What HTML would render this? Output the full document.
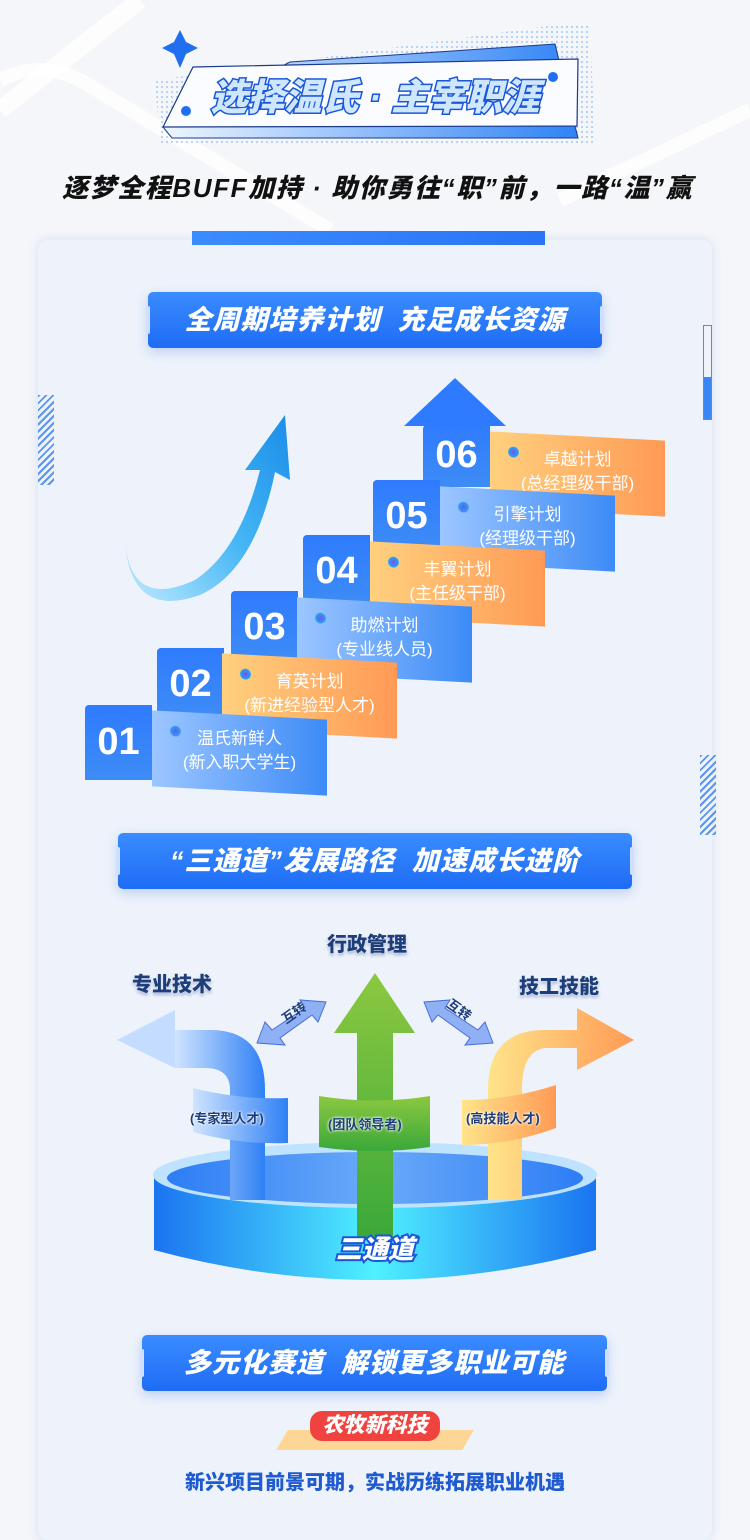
<!DOCTYPE html>
<html><head><meta charset="utf-8">
<style>
*{margin:0;padding:0;box-sizing:border-box}
body{width:750px;height:1499px;overflow:hidden;background:#f4f6fa;font-family:"Liberation Sans","Noto Sans CJK SC",sans-serif;position:relative}
.a{position:absolute}
.hdr{position:absolute;height:56px;border-radius:5px;background:linear-gradient(180deg,#3a8cff,#1f6cf5);box-shadow:0 4px 12px rgba(40,100,220,.25);color:#fff;font-weight:900;font-style:italic;font-size:27px;text-align:center;line-height:56px;letter-spacing:1px}
.hdr:before,.hdr:after{content:"";position:absolute;top:14px;width:4px;height:28px;background:#cfe0ff;border-radius:2px}
.hdr:before{left:-2px}.hdr:after{right:-2px}
.num{position:absolute;width:67px;background:linear-gradient(180deg,#2f7bff,#3d8cf5);color:#fff;font-size:38px;font-weight:700;text-align:center;border-radius:4px 0 0 0}
.lab{position:absolute;width:175px;height:76px;color:#fff;font-size:17px;line-height:24px;text-align:center;padding-top:12px;transform:skewY(3deg)}
.lab span{display:block;transform:skewY(-3deg)}
.bl{background:linear-gradient(90deg,#9cc6ff,#3d8bf7)}
.or{background:linear-gradient(90deg,#ffd07e,#ff9a55)}
.dot{position:absolute;left:18px;top:14px;width:11px;height:11px;border-radius:50%;background:radial-gradient(#7a4cff,#2aa0e8 60%,#c0f0ff);}
.t3{position:absolute;font-size:20px;font-weight:900;color:#1d3e7a;text-shadow:0 0 3px #fff,0 2px 3px rgba(30,60,140,.5)}
.sm{position:absolute;font-size:13px;color:#1d3e7a;font-weight:700;text-shadow:0 0 2px #fff,0 0 3px #fff}
</style></head><body>
<svg class="a" style="left:0;top:0" width="750" height="260">
<defs><linearGradient id="g1"><stop offset="0" stop-color="#eef5ff"/><stop offset="1" stop-color="#2f83f5"/></linearGradient>
<pattern id="pd" width="5" height="5" patternUnits="userSpaceOnUse"><circle cx="2" cy="2" r="1" fill="#7fb2f5"/></pattern></defs>
<path d="M0 110 L140 0" stroke="#fff" stroke-width="18" fill="none" opacity=".8"/>
<path d="M0 80 Q40 60 80 80 L330 230" stroke="#fff" stroke-width="14" fill="none" opacity=".8"/>
<path d="M560 200 L750 110" stroke="#fff" stroke-width="14" fill="none" opacity=".8"/>
<polygon points="290,62 555,25 590,25 595,145 160,145 155,80" fill="url(#pd)" opacity=".7"/>
<path d="M180 30 L186 42 L198 48 L186 54 L180 68 L174 54 L162 48 L174 42Z" fill="#1f6ff0"/>
<polygon points="290,62 555,44 575,126 578,138 172,138 163,127" fill="url(#g1)" stroke="#1a3a8a" stroke-width="1"/>
<polygon points="193,67 578,59 577,126 163,127" fill="#fafcff" stroke="#1a3a8a" stroke-width="1.2"/>
<circle cx="186" cy="111" r="5" fill="#1f6ff0"/><circle cx="553" cy="77" r="5" fill="#1f6ff0"/>
<text x="375" y="110" text-anchor="middle" font-size="37" font-weight="900" font-style="italic" fill="#cfe6ff" stroke="#1a56d8" stroke-width="3" paint-order="stroke" font-family="Liberation Sans,Noto Sans CJK SC,sans-serif">选择温氏 · 主宰职涯</text>
</svg>
<div class="a" style="left:62px;top:168px;width:660px;font-size:26px;font-weight:900;font-style:italic;color:#111;letter-spacing:1.6px;white-space:nowrap">逐梦全程BUFF加持 · 助你勇往“职”前，一路“温”赢</div>

<div class="a" style="left:38px;top:240px;width:674px;height:1300px;background:#eef3fb;border-radius:10px;box-shadow:0 0 10px rgba(120,150,220,.25)"></div>
<div class="a" style="left:192px;top:231px;width:353px;height:14px;background:linear-gradient(90deg,#3b8cff,#2a74f5)"></div>
<div class="a" style="left:703px;top:325px;width:9px;height:95px;border:1px solid #4a8df5;background:linear-gradient(180deg,transparent 55%,#3a86f5 55%)"></div>
<div class="a" style="left:38px;top:395px;width:16px;height:90px;background:repeating-linear-gradient(135deg,#5a95f0 0 2px,transparent 2px 5px)"></div>
<div class="a" style="left:700px;top:755px;width:16px;height:80px;background:repeating-linear-gradient(135deg,#5a95f0 0 2px,transparent 2px 5px)"></div>

<div class="hdr" style="left:148px;top:292px;width:454px">全周期培养计划 &nbsp;充足成长资源</div>

<svg class="a" style="left:110px;top:410px" width="190" height="200">
<defs><linearGradient id="ca" x1="0" y1="1" x2="1" y2="0"><stop offset="0" stop-color="#bfeaff"/><stop offset=".5" stop-color="#45b6f5"/><stop offset="1" stop-color="#1a8de8"/></linearGradient></defs>
<path d="M15 130 Q20 200 85 170 Q130 140 150 60 L135 60 L175 5 L180 70 L165 62 Q145 160 90 185 Q20 210 15 130Z" fill="url(#ca)"/>
</svg>

<svg class="a" style="left:404px;top:376px" width="104" height="60"><polygon points="51,2 102,50 0,50" fill="#2f7bff"/></svg>
<div class="num" style="left:423px;top:425px;height:62px;line-height:60px">06</div>
<div class="num" style="left:373px;top:480px;height:70px;line-height:72px">05</div>
<div class="num" style="left:303px;top:535px;height:70px;line-height:72px">04</div>
<div class="num" style="left:231px;top:591px;height:70px;line-height:72px">03</div>
<div class="num" style="left:157px;top:648px;height:70px;line-height:72px">02</div>
<div class="num" style="left:85px;top:705px;height:75px;line-height:75px">01</div>

<div class="lab or" style="left:490px;top:436px"><i class="dot"></i><span>卓越计划<br>(总经理级干部)</span></div>
<div class="lab bl" style="left:440px;top:491px"><i class="dot"></i><span>引擎计划<br>(经理级干部)</span></div>
<div class="lab or" style="left:370px;top:546px"><i class="dot"></i><span>丰翼计划<br>(主任级干部)</span></div>
<div class="lab bl" style="left:297px;top:602px"><i class="dot"></i><span>助燃计划<br>(专业线人员)</span></div>
<div class="lab or" style="left:222px;top:658px"><i class="dot"></i><span>育英计划<br>(新进经验型人才)</span></div>
<div class="lab bl" style="left:152px;top:715px"><i class="dot"></i><span>温氏新鲜人<br>(新入职大学生)</span></div>

<div class="hdr" style="left:118px;top:833px;width:514px">“三通道”发展路径 &nbsp;加速成长进阶</div>

<svg class="a" style="left:0;top:0" width="750" height="1300" viewBox="0 0 750 1300">
<defs>
<linearGradient id="cy" x1="0" x2="1"><stop offset="0" stop-color="#1b74f0"/><stop offset=".5" stop-color="#50f0ff"/><stop offset="1" stop-color="#1b74f0"/></linearGradient>
<linearGradient id="ct" x1="0" x2="1"><stop offset="0" stop-color="#2d7df5"/><stop offset=".5" stop-color="#6aaaf8"/><stop offset="1" stop-color="#2d7df5"/></linearGradient>
<linearGradient id="lb" x1="0" x2="1"><stop offset="0" stop-color="#cfe4ff"/><stop offset="1" stop-color="#2f80f5"/></linearGradient>
<linearGradient id="ro" x1="0" x2="1"><stop offset="0" stop-color="#ffe48a"/><stop offset="1" stop-color="#ff9a55"/></linearGradient>
<linearGradient id="gr" x1="0" y1="0" x2="0" y2="1"><stop offset="0" stop-color="#8cc840"/><stop offset="1" stop-color="#3aa83a"/></linearGradient>
</defs>
<path d="M154 1175 L154 1250 Q375 1310 596 1250 L596 1175Z" fill="url(#cy)"/>
<ellipse cx="375" cy="1175" rx="222" ry="33" fill="#bfe2ff"/>
<ellipse cx="375" cy="1178" rx="208" ry="26" fill="url(#ct)"/>
<path d="M230 1200 L230 1090 Q230 1068 205 1068 L175 1068 L175 1030 L210 1030 Q265 1030 265 1090 L265 1200Z" fill="url(#lb)"/>
<polygon points="175,1010 117,1040 175,1068" fill="#c4dcff"/>
<path d="M193 1088 Q240 1100 288 1098 L288 1143 Q240 1145 193 1132Z" fill="url(#lb)"/>
<polygon points="375,973 415,1033 393,1033 393,1240 357,1240 357,1033 334,1033" fill="url(#gr)"/>
<path d="M319 1096 Q375 1105 430 1096 L430 1147 Q375 1155 319 1147Z" fill="url(#gr)"/>
<path d="M488 1200 L488 1090 Q488 1030 545 1030 L577 1030 L577 1008 L634 1040 L577 1070 L577 1048 L548 1048 Q522 1048 522 1090 L522 1200Z" fill="url(#ro)"/>
<path d="M462 1100 Q510 1100 556 1085 L556 1128 Q510 1145 462 1145Z" fill="url(#ro)"/>
<g fill="#8fb0f5" stroke="#4a6fd8"><polygon points="257,1043 265,1022 272,1030 305,1008 300,1000 326,1002 318,1022 312,1015 280,1038 285,1045"/>
<polygon points="493,1043 485,1022 478,1030 445,1008 450,1000 424,1002 432,1022 438,1015 470,1038 465,1045"/></g>
<text x="286" y="1024" font-size="13" font-weight="700" fill="#1d3e7a" transform="rotate(-35 286 1024)" font-family="Liberation Sans,Noto Sans CJK SC,sans-serif">互转</text>
<text x="446" y="1006" font-size="13" font-weight="700" fill="#1d3e7a" transform="rotate(35 446 1006)" font-family="Liberation Sans,Noto Sans CJK SC,sans-serif">互转</text>
<text x="375" y="1258" text-anchor="middle" font-size="26" font-weight="900" font-style="italic" fill="#fff" stroke="#1a56d8" stroke-width="4" paint-order="stroke" font-family="Liberation Sans,Noto Sans CJK SC,sans-serif">三通道</text>
</svg>
<div class="t3" style="left:327px;top:928px">行政管理</div>
<div class="t3" style="left:132px;top:968px">专业技术</div>
<div class="t3" style="left:519px;top:970px">技工技能</div>
<div class="sm" style="left:190px;top:1108px">(专家型人才)</div>
<div class="sm" style="left:328px;top:1114px">(团队领导者)</div>
<div class="sm" style="left:466px;top:1108px">(高技能人才)</div>

<div class="hdr" style="left:142px;top:1335px;width:465px">多元化赛道 &nbsp;解锁更多职业可能</div>
<div class="a" style="left:282px;top:1430px;width:186px;height:20px;background:#fdd594;transform:skewX(-30deg)"></div>
<div class="a" style="left:310px;top:1411px;width:130px;height:30px;background:#f0433f;border-radius:12px;color:#fff;font-size:21px;font-weight:900;font-style:italic;text-align:center;line-height:30px">农牧新科技</div>
<div class="a" style="left:0;top:1466px;width:750px;text-align:center;font-size:20px;font-weight:900;color:#1e5ad0">新兴项目前景可期，实战历练拓展职业机遇</div>
</body></html>
